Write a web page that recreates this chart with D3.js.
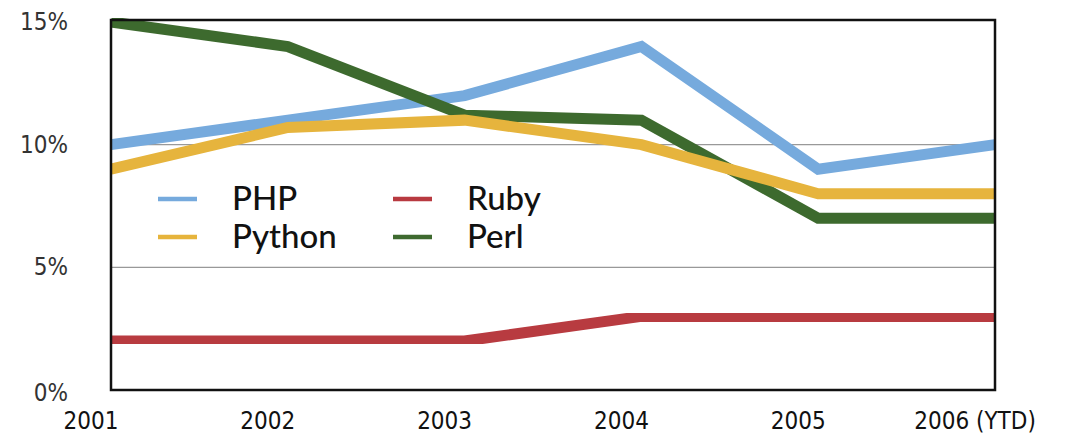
<!DOCTYPE html>
<html><head><meta charset="utf-8">
<script src="https://cdn.jsdelivr.net/npm/d3@7"></script>
<style>
body{margin:0;background:#fff;}
svg{display:block;font-family:Lato,"Open Sans",sans-serif;}
.narrow{font-family:"Liberation Sans Narrow","DejaVu Sans Condensed",Lato,sans-serif;}
</style></head>
<body><svg id="c" width="1086" height="440"></svg>
<script>
const years = ["2001","2002","2003","2004","2005","2006 (YTD)"];
const php    = [10, 11, 12, 14, 9, 10];
const python = [9, 10.7, 11, 10, 8, 8];
const ruby   = [2, 2, 2, 3, 3, 3];
const perl   = [15, 14, 11.2, 11, 7, 7];
const yTicks = [0, 5, 10, 15];
const seriesNames = ["PHP","Python","Ruby","Perl"];
const seriesColors = ["#76aadd","#e6b43c","#b83a40","#3e6a2f"];

const series = [
  {name:"PHP", values:php, color:seriesColors[0]},
  {name:"Ruby", values:ruby, color:seriesColors[2]},
  {name:"Perl", values:perl, color:seriesColors[3]},
  {name:"Python", values:python, color:seriesColors[1]}
];

const svg = d3.select("#c");
const L=111, R=995, T=22, B=390;
const x = d3.scalePoint().domain(years).range([L,R]);
const y = d3.scaleLinear().domain([0,15]).range([B,T]);

// gridlines
svg.append("g").selectAll("line").data([5,10]).join("line")
  .attr("x1",L).attr("x2",R).attr("y1",d=>y(d)).attr("y2",d=>y(d))
  .attr("stroke","#999").attr("stroke-width",1.2);

// y labels
svg.append("g").attr("class","narrow").selectAll("text").data(yTicks).join("text")
  .attr("x",68).attr("y",d=>y(d)+ (d===0?11:8)).attr("text-anchor","end")
  .attr("font-size",24).attr("fill","#333").text(d=>d+"%");

// x labels
svg.append("g").attr("class","narrow").selectAll("text").data(years).join("text")
  .attr("x",d=>x(d)-20).attr("y",429).attr("text-anchor","middle")
  .attr("font-size",24).attr("fill","#111").text(d=>d);

const line = d3.line().x((d,i)=>x(years[i])).y(d=>y(d)).curve(d3.curveLinear);

const defs = svg.append("defs");
defs.append("clipPath").attr("id","clip").append("rect")
  .attr("x",L).attr("y",T-4).attr("width",R-L).attr("height",B-T+8);
defs.append("filter").attr("id","soft").append("feGaussianBlur").attr("stdDeviation",0.7);

const g = svg.append("g").attr("clip-path","url(#clip)");
g.selectAll("path").data(series).join("path")
  .attr("d",d=>line(d.values)).attr("fill","none")
  .attr("stroke",d=>d.color).attr("stroke-width",11)
  .attr("stroke-linejoin","miter").attr("filter","url(#soft)");

// frame
svg.append("rect").attr("x",L).attr("y",T-2).attr("width",R-L).attr("height",B-T+2)
  .attr("fill","none").attr("stroke","#111").attr("stroke-width",2.5);

// legend
const leg = svg.append("g");
const legItems = [
  {name:seriesNames[0], color:seriesColors[0], lx:158, ly:199},
  {name:seriesNames[1], color:seriesColors[1], lx:158, ly:237},
  {name:seriesNames[2], color:seriesColors[2], lx:393, ly:199},
  {name:seriesNames[3], color:seriesColors[3], lx:393, ly:237}
];
legItems.forEach(it=>{
  leg.append("line").attr("x1",it.lx).attr("x2",it.lx+39).attr("y1",it.ly).attr("y2",it.ly)
    .attr("stroke",it.color).attr("stroke-width",4.5);
  leg.append("text").attr("x",it.lx+74).attr("y",it.ly+11).attr("font-size",33)
    .attr("font-weight",500).attr("fill","#111").text(it.name);
});
</script></body></html>
